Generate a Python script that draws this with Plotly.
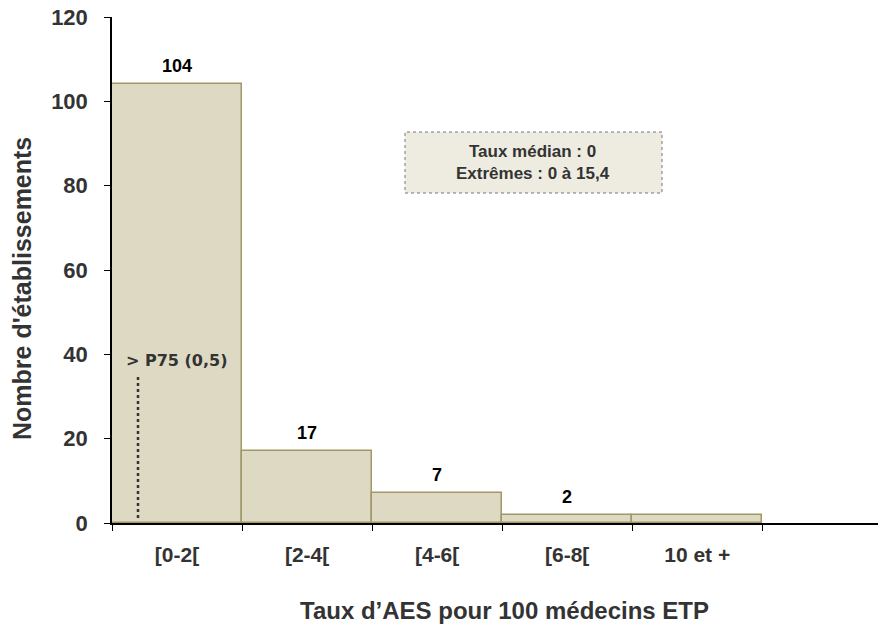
import plotly.graph_objects as go

categories = ["[0-2[", "[2-4[", "[4-6[", "[6-8[", "10 et +"]
values = [104, 17, 7, 2, 2]
bar_labels = ["104", "17", "7", "2", ""]
y_ticks = [0, 20, 40, 60, 80, 100, 120]
p75_label = "> P75 (0,5)"
box_text = "Taux médian : 0<br>Extrêmes : 0 à 15,4"
x_title = "Taux d’AES pour 100 médecins ETP"
y_title = "Nombre d'établissements"

FONT = "Liberation Sans, Arial, sans-serif"

W, H = 880, 630
L, R, T, B = 112, 2, 17, 107
PW, PH = W - L - R, H - T - B


def px_to_paper(px, py):
    return ((px - L) / PW, 1 - (py - T) / PH)


fig = go.Figure()
fig.add_trace(go.Bar(
    x=categories, y=values, width=1.0,
    marker=dict(color="#DDD9C3", line=dict(color="#A09868", width=1.5)),
    hoverinfo="skip", showlegend=False,
))

for c, v, t in zip(categories, values, bar_labels):
    if t:
        fig.add_annotation(x=c, y=v, text=t, showarrow=False,
                           yanchor="bottom", yshift=6,
                           font=dict(family=FONT, size=18, color="#000000", weight="bold"))

# P75 dotted line
fig.add_shape(type="line", xref="x", yref="y", x0=-0.3, x1=-0.3, y0=1.2, y1=34.6,
              line=dict(color="#333333", width=2.5, dash="dot"))
fig.add_annotation(x=0.0, y=38.5, text=p75_label, showarrow=False,
                   xanchor="center", yanchor="middle",
                   font=dict(family="DejaVu Sans, sans-serif", size=16, color="#333333",
                             weight="bold"))

# Info box
x0, y0 = px_to_paper(405, 193)
x1, y1 = px_to_paper(662, 132)
fig.add_shape(type="rect", xref="paper", yref="paper", x0=x0, x1=x1, y0=y0, y1=y1,
              fillcolor="#EEECE1", line=dict(color="#777777", width=1, dash="dot"),
              layer="above")
cx, cy = px_to_paper(533, 162)
fig.add_annotation(xref="paper", yref="paper", x=cx, y=cy, xanchor="center", yanchor="middle",
                   text=box_text, showarrow=False, align="center",
                   font=dict(family=FONT, size=17, color="#333333", weight="bold"))

# Axis titles
tx, ty = px_to_paper(504, 610)
fig.add_annotation(xref="paper", yref="paper", x=tx, y=ty, xanchor="center", yanchor="middle",
                   text=x_title, showarrow=False,
                   font=dict(family=FONT, size=24, color="#333333", weight="bold"))
ux, uy = px_to_paper(22, 289)
fig.add_annotation(xref="paper", yref="paper", x=ux, y=uy, xanchor="center", yanchor="middle",
                   text=y_title, showarrow=False, textangle=-90,
                   font=dict(family=FONT, size=25, color="#333333", weight="bold"))

fig.update_layout(
    width=W, height=H,
    margin=dict(l=L, r=R, t=T, b=B),
    paper_bgcolor="white", plot_bgcolor="white",
    bargap=0,
    font=dict(family=FONT, color="#333333"),
    xaxis=dict(
        type="category", range=[-0.5, 5.39], tickson="boundaries",
        ticks="outside", ticklen=6, tickwidth=1, tickcolor="#000000",
        showline=True, linecolor="#000000", linewidth=2,
        showgrid=False, zeroline=False, ticklabelstandoff=12,
        tickfont=dict(family=FONT, size=21, color="#333333", weight="bold"),
    ),
    yaxis=dict(
        range=[0, 120], tickvals=y_ticks,
        ticks="outside", ticklen=6, tickwidth=1, tickcolor="#000000",
        showline=True, linecolor="#000000", linewidth=1.5,
        showgrid=False, zeroline=False, ticklabelstandoff=12,
        tickfont=dict(family=FONT, size=22, color="#333333", weight="bold"),
    ),
)

fig.write_html("out.html", config={"displayModeBar": False},
               post_script="document.body.style.margin='0';")
